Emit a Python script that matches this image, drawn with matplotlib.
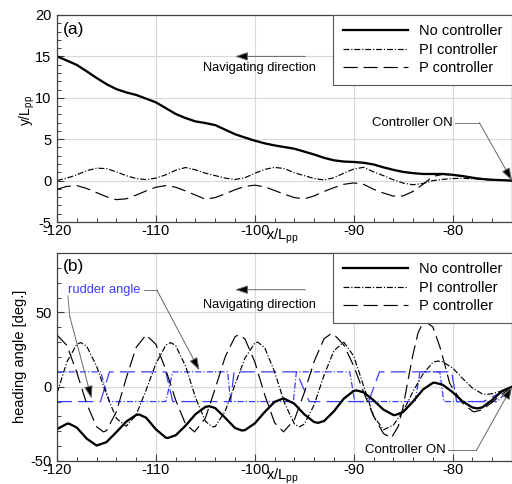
import matplotlib
matplotlib.use('Agg')
import matplotlib.pyplot as plt
from matplotlib.ticker import MultipleLocator

plt.rcParams['font.family'] = ['Liberation Sans', 'DejaVu Sans']
plt.rcParams['mathtext.fontset'] = 'custom'
plt.rcParams['mathtext.rm'] = 'Liberation Sans'
plt.rcParams['mathtext.it'] = 'Liberation Sans:italic'
plt.rcParams['axes.unicode_minus'] = False

# ---------------- data: panel (a) trajectories ----------------
x_traj = list(range(-120, -73))
traj_no = [15.0, 14.5, 13.97, 13.2, 12.4, 11.65, 11.05, 10.65, 10.35, 9.9, 9.45, 8.75, 8.05, 7.55,
           7.15, 6.95, 6.7, 6.15, 5.6, 5.2, 4.82, 4.5, 4.25, 4.05, 3.85, 3.5, 3.15, 2.75, 2.45, 2.3,
           2.25, 2.15, 1.95, 1.6, 1.3, 1.05, 0.9, 0.8, 0.8, 0.8, 0.7, 0.55, 0.35, 0.19, 0.1, 0.05, 0.0]
traj_pi = [0.0, 0.3, 0.7, 1.2, 1.5, 1.45, 1.05, 0.6, 0.25, 0.12, 0.3, 0.7, 1.25, 1.58, 1.3, 0.9,
           0.6, 0.3, 0.13, 0.35, 0.88, 1.35, 1.6, 1.45, 0.95, 0.6, 0.25, 0.08, 0.35, 0.9, 1.4, 1.6,
           1.05, 0.6, 0.1, -0.3, -0.5, -0.35, 0.0, 0.15, 0.25, 0.27, 0.22, 0.15, 0.08, 0.03, 0.0]
traj_p = [-1.05, -0.7, -0.6, -0.95, -1.45, -1.95, -2.3, -2.2, -1.75, -1.25, -0.8, -0.6, -0.8, -1.25,
          -1.75, -2.25, -2.05, -1.6, -1.1, -0.7, -0.55, -0.75, -1.2, -1.65, -2.05, -2.2, -1.85, -1.3,
          -0.85, -0.45, -0.28, -0.45, -1.05, -1.5, -1.87, -1.85, -1.3, -0.45, 0.5, 0.76, 0.68, 0.52,
          0.33, 0.17, 0.08, 0.04, 0.0]

# ---------------- data: panel (b) heading angles ----------------
head_no_x = [-120, -119, -118.8, -118, -117, -116, -115, -114, -113, -112, -111.7, -111, -110, -109,
             -108.8, -108, -107, -106, -105, -104.6, -104, -103, -102, -101.3, -101, -100, -99, -98,
             -97.1, -96, -95, -94, -93.6, -93, -92, -91, -90, -89.7, -89, -88, -87, -86, -85.8, -85,
             -84, -83, -82, -81.8, -81, -80, -79, -78, -77.5, -77, -76, -75, -74]
head_no_y = [-28.5, -25.0, -24.8, -27.5, -34.9, -39.6, -37.3, -30.6, -23.5, -19.0, -18.7, -20.8,
             -28.7, -34.3, -34.5, -32.7, -26.2, -18.5, -13.6, -13.1, -14.4, -20.9, -27.8, -29.5,
             -29.2, -24.7, -17.0, -10.2, -7.8, -11.5, -18.6, -23.8, -24.3, -23.1, -16.5, -8.0, -2.8,
             -2.5, -3.8, -9.1, -15.4, -19.0, -19.1, -17.0, -9.9, -1.9, 2.6, 2.7, 1.3, -3.7, -9.9,
             -14.0, -14.6, -13.9, -8.9, -2.9, 0.0]
head_pi_x = [-120, -119, -118, -117.6, -117, -116, -115, -114, -113, -112, -111, -110, -109, -108.5,
             -108, -107, -106, -105, -104.3, -104, -103, -102, -101, -100, -99.7, -99, -98, -97, -96,
             -95.5, -95, -94, -93, -92, -91, -90, -89, -88, -87, -86, -85, -84, -83, -82, -81.5, -81,
             -80, -79, -78, -77, -76.6, -76, -75, -74]
head_pi_y = [-4.5, 16.7, 28.6, 29.7, 27.3, 13.9, -5.2, -21.3, -26.6, -19.0, -2.4, 15.6, 28.0, 29.7,
             27.7, 13.8, -7.2, -23.2, -27.0, -26.8, -16.5, 1.5, 19.2, 29.4, 30.0, 26.2, 10.0, -11.0,
             -25.1, -27.0, -25.2, -12.2, 7.8, 24.3, 30.0, 20.6, 0.5, -19.6, -29.0, -25.9, -16.5, -3.1,
             8.5, 16.4, 17.3, 16.7, 12.6, 5.6, -0.9, -4.8, -5.2, -4.7, -2.8, 0.0]
head_p_x = [-120, -119, -118, -117, -116, -115.3, -115, -114, -113, -112, -111, -110, -109, -108,
            -107, -106.1, -105, -104, -103, -102, -101.6, -101, -100, -99, -98, -97.1, -96, -95, -94,
            -93, -92.3, -92, -91, -90, -89, -88, -87, -86.2, -85.5, -85, -84.5, -84, -83.5, -83,
            -82.8, -82, -81.3, -81, -80.3, -80, -79, -78, -77.8, -77, -76, -75, -74]
head_p_y = [34.8, 27.8, 9.6, -11.5, -26.9, -30.4, -29.6, -16.9, 5.8, 26.4, 34.9, 28.5, 11.4, -9.0,
            -25.2, -30.4, -21.2, -1.1, 20.0, 33.7, 35.0, 32.2, 16.7, -5.5, -24.2, -30.4, -22.2, -4.0,
            17.1, 32.3, 35.6, 35.2, 28.1, 13.9, -3.7, -19.8, -31.5, -34.5, -26.7, -13.3, 4.8, 22.0,
            36.2, 43.2, 44.0, 40.2, 27.0, 20.0, 2.3, -1.0, -11.0, -16.5, -16.9, -15.5, -10.5, -5.0,
            0.0]
rud_p_x = [-120, -115.6, -114.7, -109.0, -108.3, -102.45, -102.1, -95.8, -94.5, -88.5, -87.4,
           -80.1, -79.6, -76.9, -74]
rud_p_y = [-10, -10, 10, 10, -10, -10, 10, 10, -10, -10, 10, 10, -10, -10, 0]
rud_pi_x = [-120, -115.6, -114.7, -109.0, -108.3, -102.75, -102.45, -96.1, -95.8, -90.4, -89.9,
            -83.8, -83.3, -81.3, -80.9, -75.5, -74]
rud_pi_y = [10, 10, -10, -10, 10, 10, -10, -10, 10, 10, -10, -10, 10, 10, -10, -10, 0]

labels = ['No controller', 'PI controller', 'P controller']
x_ticks = [-120, -110, -100, -90, -80]

DASH_P = (0, (12, 5))
DASH_PI = (0, (5, 1.6, 1, 1.6))
BLUE = '#3c3cff'
GRID = '#d8d8d8'
FRAME = '#404040'
LW_SOLID = 1.65

fig = plt.figure(figsize=(5.12, 4.84), dpi=100)
W, H = 512.0, 484.0
ax1 = fig.add_axes([57 / W, 1 - 222 / H, 455 / W, 207 / H])
ax2 = fig.add_axes([57 / W, 1 - 461 / H, 455 / W, 208 / H])


def style(ax, ylim, ymaj, ymin):
    ax.set_xlim(-120, -74)
    ax.set_ylim(*ylim)
    ax.set_xticks(x_ticks)
    ax.set_xticklabels([str(t) for t in x_ticks])
    ax.xaxis.set_minor_locator(MultipleLocator(2))
    ax.yaxis.set_major_locator(MultipleLocator(ymaj))
    ax.yaxis.set_minor_locator(MultipleLocator(ymin))
    ax.tick_params(which='both', direction='in', top=False, right=False,
                   labelsize=10.5, color=FRAME)
    ax.tick_params(which='major', length=5, width=0.8)
    ax.tick_params(which='minor', length=3, width=0.7)
    ax.tick_params(axis='x', pad=1.5)
    ax.tick_params(axis='y', pad=4)
    ax.grid(True, which='major', color=GRID, lw=0.8)
    ax.set_axisbelow(True)
    for s in ax.spines.values():
        s.set_color(FRAME)
        s.set_linewidth(0.9)


# ---------- panel (a) ----------
style(ax1, (-5, 20), 5, 1)
ax1.plot(x_traj, traj_no, color='black', lw=LW_SOLID, label=labels[0])
ax1.plot(x_traj, traj_pi, color='black', lw=0.85, ls=DASH_PI, label=labels[1])
ax1.plot(x_traj, traj_p, color='black', lw=0.85, ls=DASH_P, label=labels[2])

# ---------- panel (b) ----------
style(ax2, (-50, 90), 50, 10)
ax2.plot(rud_p_x, rud_p_y, color=BLUE, lw=0.9, ls=DASH_P)
ax2.plot(rud_pi_x, rud_pi_y, color=BLUE, lw=0.9, ls=DASH_PI)
ax2.plot(head_no_x, head_no_y, color='black', lw=LW_SOLID, label=labels[0])
ax2.plot(head_pi_x, head_pi_y, color='black', lw=0.85, ls=DASH_PI, label=labels[1])
ax2.plot(head_p_x, head_p_y, color='black', lw=0.85, ls=DASH_P, label=labels[2])

for ax in (ax1, ax2):
    leg = ax.legend(loc='upper right', bbox_to_anchor=(1.0, 1.0), borderaxespad=0,
                    frameon=True, fancybox=False, framealpha=1, edgecolor='#555555',
                    fontsize=10.5, handlelength=4.5, handletextpad=0.75,
                    labelspacing=0.3, borderpad=0.65)
    leg.get_frame().set_linewidth(0.8)

# panel letters
ax1.text(0.012, 0.932, '(a)', transform=ax1.transAxes, fontsize=12.5, va='center', ha='left')
ax2.text(0.012, 0.933, '(b)', transform=ax2.transAxes, fontsize=12.5, va='center', ha='left')

# axis labels
fig.text(27 / W, 1 - 110 / H, 'y/L$_{\\mathrm{pp}}$', rotation=90, ha='center', va='center',
         fontsize=10)
fig.text(20 / W, 1 - 356 / H, 'heading angle [deg.]', rotation=90, ha='center', va='center',
         fontsize=10.5)
fig.text(282 / W, 1 - 236 / H, 'x/L$_{\\mathrm{pp}}$', ha='center', va='center', fontsize=10.5)
fig.text(282 / W, 1 - 476 / H, 'x/L$_{\\mathrm{pp}}$', ha='center', va='center', fontsize=10.5)

ARW = dict(arrowstyle='-|>,head_length=0.65,head_width=0.22', mutation_scale=12,
           ec='#666666', fc='black', lw=0.7, shrinkA=0, shrinkB=0)

# Navigating direction
for ax, ya, yt in ((ax1, 15.0, 13.6), (ax2, 65.3, 55.2)):
    ax.annotate('', xy=(-102.0, ya), xytext=(-94.9, ya), arrowprops=ARW)
    ax.text(-99.5, yt, 'Navigating direction', fontsize=9.3, ha='center', va='center')

# Controller ON (a)
ax1.text(-80.0, 7.0, 'Controller ON', fontsize=9.5, ha='right', va='center')
ax1.plot([-79.8, -77.3], [7.0, 7.0], color='#777777', lw=0.7, clip_on=False)
ax1.annotate('', xy=(-74.0, 0.0), xytext=(-77.3, 7.0), arrowprops=ARW, annotation_clip=False)

# Controller ON (b)
ax2.text(-80.7, -42.8, 'Controller ON', fontsize=9.5, ha='right', va='center')
ax2.plot([-80.5, -77.6], [-42.8, -42.8], color='#777777', lw=0.7, clip_on=False)
ax2.annotate('', xy=(-74.0, 0.0), xytext=(-77.6, -42.8), arrowprops=ARW, annotation_clip=False)

# rudder angle label
ax2.text(-118.9, 65.0, 'rudder angle', fontsize=9.3, color=BLUE, ha='left', va='center')
ax2.plot([-111.2, -109.9], [65.0, 65.0], color='#777777', lw=0.7)
ax2.annotate('', xy=(-105.6, 11.0), xytext=(-109.9, 65.0), arrowprops=ARW)
ax2.plot([-118.9, -118.7], [61.0, 47.0], color='#777777', lw=0.7)
ax2.annotate('', xy=(-116.5, -8.0), xytext=(-118.7, 47.0), arrowprops=ARW)

fig.savefig('out.png', dpi=100)
